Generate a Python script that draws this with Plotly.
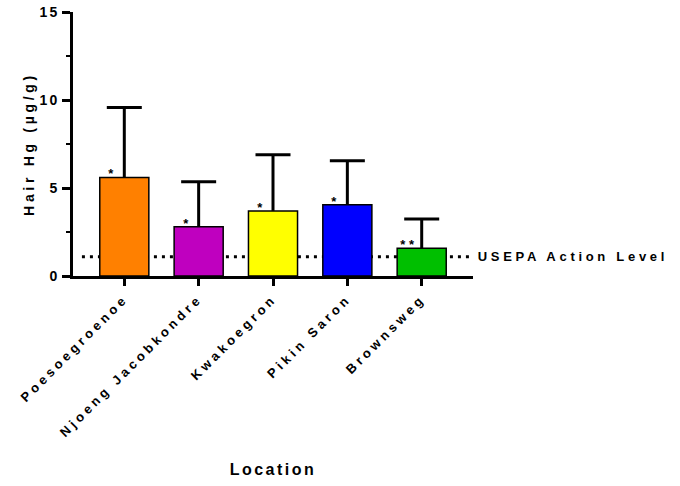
import plotly.graph_objects as go

locations = ["Poesoegroenoe", "Njoeng Jacobkondre", "Kwakoegron", "Pikin Saron", "Brownsweg"]
mean_hg = [5.6, 2.8, 3.7, 4.05, 1.57]
sd_hg = [3.98, 2.56, 3.19, 2.5, 1.67]
bar_colors = ["#FF8000", "#BF00BF", "#FFFF00", "#0000FF", "#00BF00"]
stars = ["*", "*", "*", "*", "**"]
usepa_level = 1.1
usepa_label = "USEPA Action Level"

FONT = "Arial"

fig = go.Figure()
fig.add_trace(go.Bar(
    x=locations, y=mean_hg,
    marker=dict(color=bar_colors, line=dict(color="black", width=1.5)),
    showlegend=False, hoverinfo="x+y",
))

# one-sided (upper) error bars: stems from mean to mean+SD, plus caps
upper = [m + s for m, s in zip(mean_hg, sd_hg)]
stem_x, stem_y = [], []
for loc, m, u in zip(locations, mean_hg, upper):
    stem_x += [loc, loc, None]
    stem_y += [m, u, None]
fig.add_trace(go.Scatter(x=stem_x, y=stem_y, mode="lines", line=dict(color="black", width=3),
                         showlegend=False, hoverinfo="skip"))
fig.add_trace(go.Scatter(x=locations, y=upper, mode="markers",
                         marker=dict(symbol="line-ew", size=25, color="black",
                                     line=dict(color="black", width=3)),
                         showlegend=False, hoverinfo="skip"))

# dotted reference line
fig.add_shape(type="line", xref="x", yref="y", x0=-0.57, x1=4.64, y0=usepa_level, y1=usepa_level,
              line=dict(color="black", width=3, dash="3px,5px"), layer="below")

annotations = []
for i, s in enumerate(stars):
    annotations.append(dict(x=locations[i], y=mean_hg[i], xref="x", yref="y", text=s, showarrow=False,
                            xshift=-12 if len(s) > 1 else -11, yshift=-6, yanchor="bottom",
                            font=dict(family=FONT, size=13, color="black", weight="bold")))
annotations.append(dict(x=1.0, xref="paper", y=usepa_level, yref="y", text=usepa_label, showarrow=False,
                        xanchor="left", yanchor="middle", xshift=36,
                        font=dict(family=FONT, size=13, color="black", weight="bold")))

fig.update_layout(
    width=680, height=486,
    margin=dict(l=73, r=207, t=12, b=210),
    plot_bgcolor="white", paper_bgcolor="white",
    bargap=0.34,
    annotations=annotations,
    font=dict(family=FONT, color="black"),
    xaxis=dict(
        range=[-0.69, 4.69], showline=True, linewidth=3, linecolor="black",
        ticks="outside", ticklen=7, tickwidth=3, tickcolor="black",
        tickangle=-45, tickfont=dict(family=FONT, size=13, weight="bold"),
        showgrid=False, zeroline=False, automargin=False,
        title=dict(text="Location", font=dict(family=FONT, size=16, weight="bold"), standoff=73),
    ),
    yaxis=dict(
        range=[0, 15], tickvals=[0, 5, 10, 15], showline=True, linewidth=3, linecolor="black",
        ticks="outside", ticklen=8, tickwidth=3, tickcolor="black",
        tickfont=dict(family=FONT, size=14, weight="bold"),
        minor=dict(dtick=2.5, tick0=0, ticks="outside", ticklen=4, tickwidth=2, tickcolor="black"),
        showgrid=False, zeroline=False, automargin=False,
        title=dict(text="Hair Hg (µg/g)", font=dict(family=FONT, size=14, weight="bold"), standoff=6),
    ),
)

post = """
document.body.style.margin = '0';
document.documentElement.style.margin = '0';
var gd = document.getElementById('{plot_id}');
gd.querySelectorAll('text').forEach(function(t){ t.style.letterSpacing = '3.7px'; });
gd.querySelectorAll('.g-xtitle text').forEach(function(t){ t.style.letterSpacing = '2.5px'; });
gd.querySelectorAll('.ytick text').forEach(function(t){ t.style.letterSpacing = '2px'; });
"""
fig.write_html("out.html", post_script=post, config={"displayModeBar": False})
